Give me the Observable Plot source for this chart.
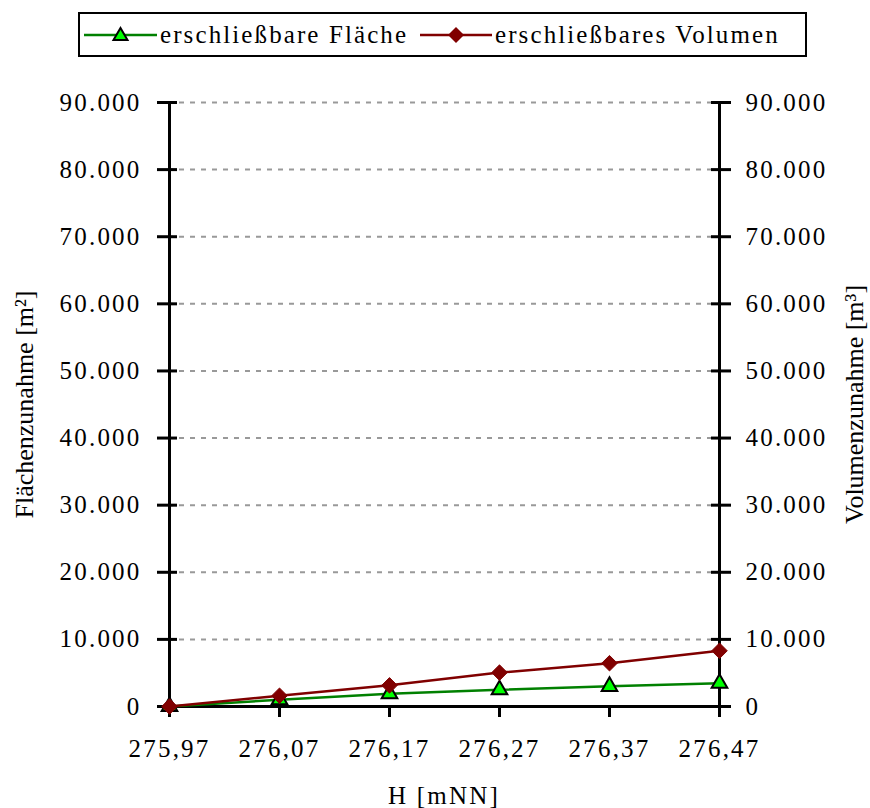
<!DOCTYPE html>
<html>
<head>
<meta charset="utf-8">
<script src="https://cdn.jsdelivr.net/npm/d3@7"></script>
<script src="https://cdn.jsdelivr.net/npm/@observablehq/plot@0.6"></script>
<style>
  body { margin: 0; background: #fff; }
  #wrap { position: relative; width: 870px; height: 808px; font-family: "Liberation Serif", "Times New Roman", Times, serif; }
  #legend { position: absolute; left: 78px; top: 12px; width: 725px; height: 41px; border: 2px solid #000; background:#fff; }
  .lg { position: absolute; top: 0; font-family: "Liberation Serif", "Times New Roman", Times, serif; font-size: 25px; letter-spacing: 2.1px; line-height: 41px; white-space: nowrap; color:#000; }
  .sym { position: absolute; top: 0; }
  svg text { font-family: "Liberation Serif", "Times New Roman", Times, serif; }
</style>
</head>
<body>
<div id="wrap">
  <div id="chart"></div>
  <div id="legend"></div>
</div>
<script>
const categories = ["275,97", "276,07", "276,17", "276,27", "276,37", "276,47"];
const flaeche = [0, 1000, 1900, 2500, 3000, 3450];
const volumen = [0, 1600, 3150, 5050, 6450, 8300];
const yTicks = [0, 10000, 20000, 30000, 40000, 50000, 60000, 70000, 80000, 90000];
const seriesNames = ["erschließbare Fläche", "erschließbares Volumen"];
const axisTitles = ["H [mNN]", "Flächenzunahme [m²]", "Volumenzunahme [m³]"];
const colors = {flaeche: "#008000", flaecheFill: "#00ff00", volumen: "#800000"};

const fmt = d => d === 0 ? "0" : d3.format(",")(d).replace(/,/g, ".");
const dataF = categories.map((c, i) => ({x: c, y: flaeche[i]}));
const dataV = categories.map((c, i) => ({x: c, y: volumen[i]}));

const plot = Plot.plot({
  width: 870, height: 808,
  marginLeft: 167, marginRight: 150, marginTop: 102, marginBottom: 102,
  x: {type: "point", domain: categories, padding: 0},
  y: {domain: [0, 90000]},
  style: {fontFamily: "'Liberation Serif', 'Times New Roman', Times, serif", fontSize: "25px", letterSpacing: "2.2px", color: "#000", background: "#fff"},
  marks: [
    Plot.ruleY(yTicks.filter(d => d > 0), {stroke: "#999", strokeWidth: 2, strokeDasharray: "5,6", strokeDashoffset: -12}),
    Plot.ruleX([categories[0], categories[categories.length - 1]], {y1: 0, y2: 90000, stroke: "#000", strokeWidth: 3}),
    Plot.ruleY([0], {stroke: "#000", strokeWidth: 3}),
    Plot.axisY({anchor: "left", ticks: yTicks, tickFormat: fmt, tickSize: 20, dx: 10, tickPadding: 16, strokeWidth: 3, label: null}),
    Plot.axisY({anchor: "right", ticks: yTicks, tickFormat: fmt, tickSize: 20, dx: -10, tickPadding: 15, strokeWidth: 3, label: null}),
    Plot.axisX({anchor: "bottom", tickSize: 11, tickPadding: 22, strokeWidth: 3, label: null}),
    Plot.line(dataF, {x: "x", y: "y", stroke: colors.flaeche, strokeWidth: 2.5}),
    Plot.dot(dataF, {x: "x", y: "y", symbol: "triangle", r: 5.8, fill: colors.flaecheFill, stroke: "#000", strokeWidth: 2}),
    Plot.line(dataV, {x: "x", y: "y", stroke: colors.volumen, strokeWidth: 2.5}),
    Plot.dot(dataV, {x: "x", y: "y", symbol: "diamond2", r: 7, fill: colors.volumen, stroke: colors.volumen, strokeWidth: 1}),
    Plot.text([axisTitles[0]], {frameAnchor: "bottom", textAnchor: "middle", lineAnchor: "middle", dy: 89}),
    Plot.text([axisTitles[1]], {frameAnchor: "left", textAnchor: "middle", lineAnchor: "middle", rotate: -90, dx: -143, fontSize: 26}),
    Plot.text([axisTitles[2]], {frameAnchor: "right", textAnchor: "middle", lineAnchor: "middle", rotate: -90, dx: 134, fontSize: 26})
  ]
});
// titles on the y axes use normal letter spacing
plot.querySelectorAll("text").forEach(t => {
  if (t.textContent === axisTitles[1] || t.textContent === axisTitles[2]) t.setAttribute("letter-spacing", "0");
});
plot.querySelectorAll("g[aria-label='text']").forEach(g => {
  const t = g.querySelector("text");
  if (t && (t.textContent === axisTitles[1] || t.textContent === axisTitles[2])) g.style.letterSpacing = "0px";
});
document.getElementById("chart").appendChild(plot);

// legend
const lg = document.getElementById("legend");
const ns = "http://www.w3.org/2000/svg";
function addSym(left, width, color, kind) {
  const s = document.createElementNS(ns, "svg");
  s.setAttribute("width", width); s.setAttribute("height", 41);
  s.setAttribute("class", "sym"); s.style.left = left + "px";
  const l = document.createElementNS(ns, "line");
  l.setAttribute("x1", 0); l.setAttribute("x2", width); l.setAttribute("y1", 21); l.setAttribute("y2", 21);
  l.setAttribute("stroke", color); l.setAttribute("stroke-width", 2.5);
  s.appendChild(l);
  const p = document.createElementNS(ns, "path");
  const cx = width / 2;
  if (kind === "triangle") {
    p.setAttribute("d", `M${cx},${14}L${cx + 7},${26}L${cx - 7},${26}Z`);
    p.setAttribute("fill", colors.flaecheFill); p.setAttribute("stroke", "#000"); p.setAttribute("stroke-width", 2);
  } else {
    p.setAttribute("d", `M${cx},${13}L${cx + 8},${21}L${cx},${29}L${cx - 8},${21}Z`);
    p.setAttribute("fill", colors.volumen);
  }
  s.appendChild(p);
  lg.appendChild(s);
}
function addText(left, txt) {
  const d = document.createElement("div");
  d.className = "lg"; d.style.left = left + "px"; d.textContent = txt;
  lg.appendChild(d);
}
addSym(4, 73, colors.flaeche, "triangle");
addText(80, seriesNames[0]);
addSym(340, 72, colors.volumen, "diamond");
addText(415, seriesNames[1]);
</script>
</body>
</html>
